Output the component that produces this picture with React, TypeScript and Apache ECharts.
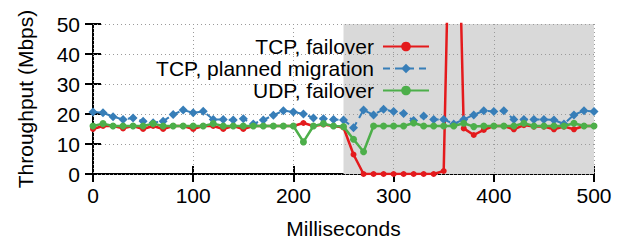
import React, { useEffect, useRef } from "react";
import * as echarts from "echarts";

const times = [
  0, 10, 20, 30, 40, 50, 60, 70, 80, 90, 100, 110, 120, 130, 140, 150, 160, 170, 180, 190,
  200, 210, 220, 230, 240, 250, 260, 270, 280, 290, 300, 310, 320, 330, 340, 350, 360, 370,
  380, 390, 400, 410, 420, 430, 440, 450, 460, 470, 480, 490, 500,
];

const tcpFailover = [
  15, 16, 16, 15.2, 16, 15, 16, 15, 16, 16, 15, 16, 16, 15, 16, 15, 16, 16, 16, 16, 16, 17,
  16, 16.5, 16, 15.5, 6.5, 0, 0, 0, 0, 0, 0, 0, 0, 1, 155, 15.2, 13, 14.7, 16, 16, 14.9,
  16.3, 15.8, 15.8, 14.9, 15.8, 14.9, 16, 16,
];

const tcpPlanned = [
  20.7, 20.4, 19.1, 18.2, 18.7, 17.6, 17.1, 17.6, 19.8, 21.3, 20.4, 20.9, 18.2, 18.2, 18,
  18.4, 16.7, 18, 19.6, 21.1, 20.7, 20, 18.7, 18.4, 18.2, 18, 15.4, 21.3, 19.7, 21.6, 20.8,
  20.2, 17.8, 19.3, 18.2, 18.2, 16.7, 18.2, 19.7, 21.1, 20.8, 21.1, 18.2, 18.2, 18.2, 18.2,
  18, 16.7, 19.7, 21.1, 20.8,
];

const udpFailover = [
  16, 16.8, 16, 16, 16, 16, 16.8, 16, 16, 16, 16, 16, 16.8, 16, 16, 16, 16, 16, 16, 16, 16,
  10.7, 16, 16.8, 16, 15.8, 11.6, 7.4, 16, 16, 16, 16, 17, 16, 16, 16, 16, 16.9, 15.8, 16,
  16, 16, 16, 16.9, 16, 16, 16, 16, 16.9, 16, 16,
];

const seriesNames = ["TCP, failover", "TCP, planned migration", "UDP, failover"];
const failoverWindow = [250, 500];
const xTicks = { min: 0, max: 500, interval: 100 };
const yTicks = { min: 0, max: 50, interval: 10 };

const FONT = "'Liberation Sans', Arial, Helvetica, sans-serif";

export default function App() {
  const ref = useRef<HTMLDivElement>(null);

  useEffect(() => {
    if (!ref.current) return;
    const chart = echarts.init(ref.current, undefined, { renderer: "svg" });
    const pairs = (vals: number[]) => times.map((t, i) => [t, vals[i]]);
    const gridLine = { show: true, lineStyle: { color: "#9a9a9a", width: 1, type: [1, 3] } };

    chart.setOption({
      animation: false,
      grid: { left: 93, top: 24, width: 501, height: 150, containLabel: false },
      xAxis: [
        {
          type: "value",
          ...xTicks,
          position: "bottom",
          name: "Milliseconds",
          nameLocation: "middle",
          nameGap: 44,
          nameTextStyle: { fontFamily: FONT, fontSize: 21, color: "#000" },
          axisLine: { show: true, onZero: false, lineStyle: { color: "#000", width: 2 } },
          axisTick: { show: true, inside: true, length: 8, lineStyle: { color: "#000", width: 2 } },
          axisLabel: { fontFamily: FONT, fontSize: 21, color: "#000", margin: 11 },
          splitLine: { show: false },
        },
        {
          type: "value",
          ...xTicks,
          position: "top",
          z: 2,
          axisLine: { show: false },
          axisTick: { show: true, inside: true, length: 8, lineStyle: { color: "#000", width: 2 } },
          axisLabel: { show: false },
          splitLine: gridLine,
        },
      ],
      yAxis: [
        {
          type: "value",
          ...yTicks,
          position: "left",
          name: "Throughput (Mbps)",
          nameLocation: "middle",
          nameGap: 57,
          nameTextStyle: { fontFamily: FONT, fontSize: 21, color: "#000" },
          axisLine: { show: true, onZero: false, lineStyle: { color: "#000", width: 2 } },
          axisTick: { show: true, inside: true, length: 8, lineStyle: { color: "#000", width: 2 } },
          axisLabel: { fontFamily: FONT, fontSize: 21, color: "#000", margin: 13 },
          splitLine: { show: false },
        },
        {
          type: "value",
          ...yTicks,
          position: "right",
          z: 2,
          axisLine: { show: false },
          axisTick: { show: true, inside: true, length: 8, lineStyle: { color: "#000", width: 2 } },
          axisLabel: { show: false },
          splitLine: gridLine,
        },
      ],
      legend: {
        orient: "vertical",
        right: 191,
        top: 31,
        align: "right",
        itemWidth: 46,
        itemHeight: 12,
        itemGap: 1,
        data: seriesNames,
        textStyle: {
          fontFamily: FONT,
          fontSize: 21,
          color: "#000",
          lineHeight: 21,
          padding: [0, 4, 0, 0],
        },
      },
      series: [
        {
          type: "line",
          name: "shade",
          data: [],
          z: 1,
          silent: true,
          markArea: {
            silent: true,
            itemStyle: { color: "#d9d9d9" },
            data: [[{ xAxis: failoverWindow[0] }, { xAxis: failoverWindow[1] }]],
          },
        },
        {
          type: "line",
          name: seriesNames[0],
          data: pairs(tcpFailover),
          z: 3,
          symbol: "circle",
          symbolSize: 6,
          color: "#e41a1c",
          lineStyle: { width: 2.5, color: "#e41a1c" },
          itemStyle: { color: "#e41a1c" },
        },
        {
          type: "line",
          name: seriesNames[1],
          data: pairs(tcpPlanned),
          z: 4,
          symbol: "diamond",
          symbolSize: 9,
          color: "#377eb8",
          lineStyle: { width: 2, color: "#377eb8", type: [7, 5] },
          itemStyle: { color: "#377eb8" },
        },
        {
          type: "line",
          name: seriesNames[2],
          data: pairs(udpFailover),
          z: 5,
          symbol: "circle",
          symbolSize: 7,
          color: "#4daf4a",
          lineStyle: { width: 2.5, color: "#4daf4a" },
          itemStyle: { color: "#4daf4a" },
        },
      ],
    });
    return () => chart.dispose();
  }, []);

  return (
    <div
      ref={ref}
      style={{ position: "fixed", left: 0, top: 0, width: 626, height: 244, background: "#fff" }}
    />
  );
}
